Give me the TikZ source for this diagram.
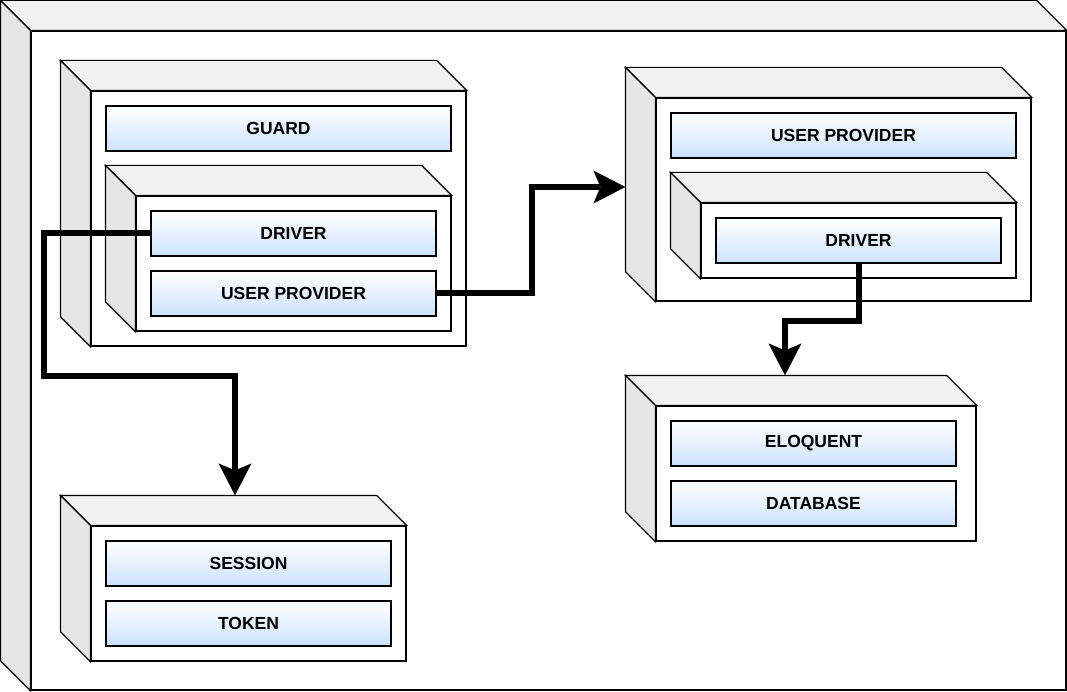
\documentclass[tikz,border=0pt]{standalone}
\usepackage{fontspec}
\setmainfont{Liberation Sans}
\usetikzlibrary{arrows.meta}
\definecolor{topgray}{RGB}{242,242,242}
\definecolor{sidegray}{RGB}{230,230,230}
\definecolor{itemblue}{RGB}{204,226,255}
\tikzset{
  front/.style = {draw, fill=white, line width=1.2pt, inner sep=0pt},
  topface/.style = {draw, fill=topgray, line width=1.2pt},
  sideface/.style = {draw, fill=sidegray, line width=1.2pt},
  item/.style = {draw, line width=1.2pt, top color=white, bottom color=itemblue,
    minimum height=45pt, inner sep=0pt,
    font=\bfseries\fontsize{17.5}{21}\selectfont},
  flow/.style = {line width=6pt, -{Stealth[length=32pt,width=33pt,inset=7pt,line width=0pt]}}
}
\newcommand{\boxdepth}{30}
% top and left face of a box whose front face is the node #1
\newcommand{\cubefaces}[1]{%
  \filldraw[topface] (#1.north west) -- ++(-\boxdepth,-\boxdepth)
    -- ([shift={(-\boxdepth,-\boxdepth)}]#1.north east) -- (#1.north east) -- cycle;
  \filldraw[sideface] (#1.north west) -- ++(-\boxdepth,-\boxdepth)
    -- ([shift={(-\boxdepth,-\boxdepth)}]#1.south west) -- (#1.south west) -- cycle;
}

\begin{document}
\begin{tikzpicture}[x=1pt,y=-1pt]
  \useasboundingbox (0,0) rectangle (1067,692);
  % outer box
  \node[front, minimum width=1035pt, minimum height=659pt] (outer) at (548.5,360.5) {};
  \cubefaces{outer}
  % guard box
  \node[front, minimum width=375pt, minimum height=255pt] (guardbox) at (278.5,218.5) {};
  \cubefaces{guardbox}
  \node[item, minimum width=345pt] (guard) at (278.5,128.5) {GUARD};
  \node[front, minimum width=315pt, minimum height=135pt] (drvbox) at (293.5,263.5) {};
  \cubefaces{drvbox}
  \node[item, minimum width=285pt] (drvA) at (293.5,233.5) {DRIVER};
  \node[item, minimum width=285pt] (upA) at (293.5,293.5) {USER PROVIDER};
  % session box
  \node[front, minimum width=315pt, minimum height=135pt] (sessbox) at (248.5,593.5) {};
  \cubefaces{sessbox}
  \node[item, minimum width=285pt] (session) at (248.5,563.5) {SESSION};
  \node[item, minimum width=285pt] (token) at (248.5,623.5) {TOKEN};
  % user provider box
  \node[front, minimum width=375pt, minimum height=203pt] (upbox) at (843.5,199.5) {};
  \cubefaces{upbox}
  \node[item, minimum width=345pt] (upB) at (843.5,135.5) {USER PROVIDER};
  \node[front, minimum width=315pt, minimum height=75pt] (drvbox2) at (858.5,240.5) {};
  \cubefaces{drvbox2}
  \node[item, minimum width=285pt] (drvB) at (858.5,240.5) {DRIVER};
  % storage box
  \node[front, minimum width=320pt, minimum height=135pt] (storebox) at (816,473.5) {};
  \cubefaces{storebox}
  \node[item, minimum width=285pt] (eloquent) at (813.5,443.5) {ELOQUENT};
  \node[item, minimum width=285pt] (database) at (813.5,503.5) {DATABASE};
  %
  \coordinate (sesstop) at ([shift={(-13.5,-30)}]sessbox.north);
  \coordinate (upleft) at ([shift={(-30,-12.5)}]upbox.west);
  \coordinate (storetop) at ([shift={(-31,-30)}]storebox.north);
  % flows
  \draw[flow] (drvA.west) -- ++(-106,0) -- ++(0,142.5) -| (sesstop);
  \draw[flow] (upA.east) -- ++(95,0) |- (upleft);
  \draw[flow] (drvB.south) -- ++(0,57) -| (storetop);
\end{tikzpicture}
\end{document}
